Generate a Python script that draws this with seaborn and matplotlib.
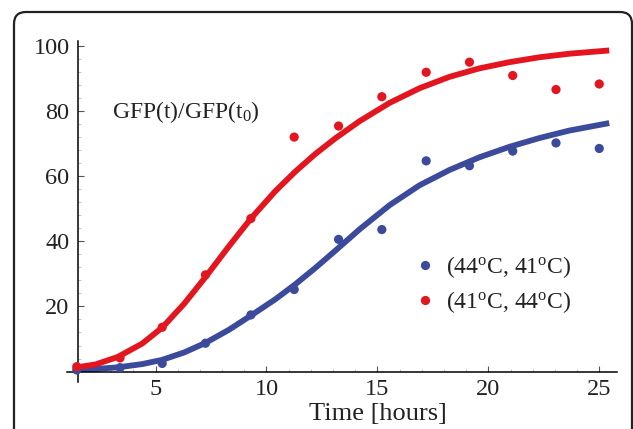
import numpy as np
import pandas as pd
import matplotlib
matplotlib.use("Agg")
import matplotlib.pyplot as plt
import seaborn as sns
from matplotlib.patches import FancyBboxPatch
from matplotlib.transforms import IdentityTransform
from matplotlib.ticker import MultipleLocator

# measured points (hours, GFP(t)/GFP(t0))
tiempo = [1.45, 3.4, 5.3, 7.25, 9.3, 11.25, 13.25, 15.2, 17.2, 19.15, 21.1, 23.05, 25.0]
gfp_44_41 = [0.5, 1.2, 2.5, 8.7, 17.4, 25.2, 40.6, 43.6, 64.7, 63.2, 67.7, 70.2, 68.5]
gfp_41_44 = [1.5, 4.2, 13.6, 29.7, 47.0, 72.0, 75.4, 84.4, 91.9, 95.0, 90.9, 86.6, 88.3]

# fitted curves
tiempo_ajuste = [1.45, 2.3, 3.3, 4.4, 5.3, 6.3, 7.25, 8.3, 9.3, 10.4, 11.3, 12.2,
                 13.1, 14.2, 15.55, 16.9, 18.25, 19.6, 20.95, 22.3, 23.65, 25.45]
ajuste_44_41 = [0.7, 0.8, 1.3, 2.3, 3.6, 5.9, 8.8, 12.8, 17.2, 22.2, 26.8, 31.8,
                37.1, 43.7, 51.1, 57.2, 61.9, 65.8, 69.0, 71.7, 74.0, 76.3]
ajuste_41_44 = [1.3, 2.2, 4.5, 8.6, 13.5, 20.9, 29.0, 38.4, 47.0, 55.4, 61.4, 66.8,
                71.6, 76.9, 82.5, 87.0, 90.5, 93.1, 95.0, 96.5, 97.6, 98.6]

etiquetas = [r"(44$^{\mathrm{o}}$C, 41$^{\mathrm{o}}$C)",
             r"(41$^{\mathrm{o}}$C, 44$^{\mathrm{o}}$C)"]
colores = ["#3C4A9C", "#E3161F"]

sns.set_theme(style="white")
plt.rcParams['font.family'] = ['Liberation Serif', 'DejaVu Serif']
plt.rcParams['mathtext.fontset'] = 'custom'
plt.rcParams['mathtext.rm'] = 'Liberation Serif'
plt.rcParams['mathtext.it'] = 'Liberation Serif:italic'

df_puntos = pd.DataFrame({
    't': tiempo * 2,
    'gfp': gfp_44_41 + gfp_41_44,
    'cond': [etiquetas[0]] * len(tiempo) + [etiquetas[1]] * len(tiempo),
})

fig = plt.figure(figsize=(6.33, 4.29), dpi=100)
ax = fig.add_axes([67 / 633, 1 - 382 / 429, 550 / 633, 341 / 429])

sns.lineplot(x=tiempo_ajuste, y=ajuste_44_41, color=colores[0], lw=4.2,
             sort=False, ax=ax, solid_joinstyle='round', solid_capstyle='butt')
sns.lineplot(x=tiempo_ajuste, y=ajuste_41_44, color=colores[1], lw=4.2,
             sort=False, ax=ax, solid_joinstyle='round', solid_capstyle='butt')
sns.scatterplot(data=df_puntos, x='t', y='gfp', hue='cond', palette=colores,
                s=44, edgecolor='none', ax=ax, zorder=3)

ax.set_xlim(1.01, 25.8)
ax.set_ylim(-3.2, 101.5)
for lado in ['top', 'right']:
    ax.spines[lado].set_visible(False)
ax.spines['left'].set_position(('data', 1.5))
ax.spines['bottom'].set_position(('data', 0))
for lado in ['left', 'bottom']:
    ax.spines[lado].set_color('black')
    ax.spines[lado].set_linewidth(1.1)

ax.set_xticks([5, 10, 15, 20, 25])
ax.set_yticks([20, 40, 60, 80, 100])
ax.xaxis.set_minor_locator(MultipleLocator(1))
ax.yaxis.set_minor_locator(MultipleLocator(4))
ax.tick_params(which='major', direction='in', length=4, width=0.8,
               color='#555555', labelsize=17.5, labelcolor='#222222')
ax.tick_params(axis='y', which='major', pad=6)
ax.tick_params(axis='x', which='major', pad=5)
ax.tick_params(which='minor', direction='in', length=2, width=0.6,
               color='#bbbbbb')
ax.tick_params(left=True, bottom=True, which='both')

ax.set_xlabel('Time [hours]', fontsize=19, color='#222222')
ax.set_ylabel('')
ax.xaxis.set_label_coords(0.565, -0.062)

# display coords, origin bottom left
ax.text(112, 429 - 118, r"GFP(t)/GFP(t$_0$)", fontsize=17, color='#222222',
        transform=IdentityTransform(), va='baseline', ha='left')

ax.legend(loc='upper left', bbox_to_anchor=(0.612, 0.41), frameon=False,
          fontsize=17, handlelength=0.8, handletextpad=0.5, borderpad=0,
          labelspacing=0.38, markerscale=1.0)
for txt in ax.get_legend().get_texts():
    txt.set_color('#222222')

marco = FancyBboxPatch((14, -30), 618, 429 - 12 + 30,
                       boxstyle="round,pad=0,rounding_size=12",
                       transform=IdentityTransform(), fill=False,
                       edgecolor='#222222', linewidth=1.6)
fig.add_artist(marco)

fig.savefig('out.png', dpi=100)
